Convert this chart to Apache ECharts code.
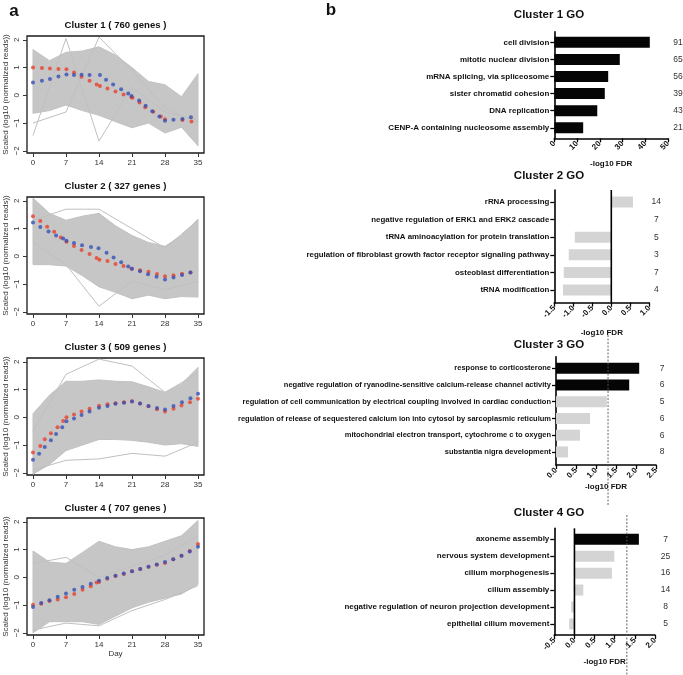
<!DOCTYPE html>
<html><head><meta charset="utf-8">
<script src="https://cdn.jsdelivr.net/npm/echarts@6/dist/echarts.min.js"></script>
<style>html,body{margin:0;padding:0;background:#fff}#c{width:683px;height:675px}</style>
</head><body><div id="c"></div>
<script>
const FONT = '"Liberation Sans", Arial, Helvetica, sans-serif';

// ---------------- panel a : expression profiles ----------------
const dayTicks = [0, 7, 14, 21, 28, 35];
const yTicks = [2, 1, 0, -1, -2];
const bandDays = [0, 3.5, 7, 10.5, 14, 17.5, 21, 24.5, 28, 31.5, 35];
const outDays = [0, 7, 14, 21, 28, 35];
const profileTitles = ['Cluster 1 ( 760 genes )', 'Cluster 2 ( 327 genes )', 'Cluster 3 ( 509 genes )', 'Cluster 4 ( 707 genes )'];

// cluster 1
const c1Upper = [1.65, 1.25, 1.55, 1.6, 1.75, 1.45, 1.0, 0.5, 0.38, -0.05, 0.78];
const c1Lower = [-0.65, -0.55, -0.35, -0.55, -0.72, -0.95, -1.17, -1.0, -1.36, -1.15, -1.82];
const c1Out1 = [-1.45, 2.05, -1.65, 0.3, -0.6, -0.9];
const c1Out2 = [-1.0, -0.6, 2.1, 0.9, -0.45, -1.0];
const c1RedDays = [0, 1.9, 3.6, 5.4, 7.1, 8.7, 10.3, 12, 13.5, 14.2, 15.8, 17.5, 19.2, 20.9, 21.1, 22.6, 23.8, 25.5, 27.1, 28, 31.7, 33.6];
const c1RedVals = [1.0, 0.99, 0.97, 0.95, 0.94, 0.82, 0.67, 0.53, 0.39, 0.34, 0.25, 0.14, 0.03, -0.07, -0.09, -0.26, -0.43, -0.59, -0.76, -0.86, -0.89, -0.94];
const c1BlueDays = [0, 1.9, 3.6, 5.4, 7.1, 8.7, 10.3, 12, 14.2, 15.5, 17, 18.7, 20.2, 20.9, 22.5, 23.9, 25.3, 26.8, 28, 29.8, 31.7, 33.5];
const c1BlueVals = [0.46, 0.53, 0.59, 0.68, 0.75, 0.73, 0.74, 0.73, 0.73, 0.56, 0.39, 0.22, 0.07, -0.02, -0.19, -0.38, -0.57, -0.76, -0.92, -0.88, -0.85, -0.79];

// cluster 2
const c2Upper = [2.1, 1.55, 1.3, 1.45, 1.55, 1.1, 0.75, 0.5, 0.36, 0.75, 1.34];
const c2Lower = [-0.3, -0.3, -0.35, -0.7, -1.1, -1.3, -1.53, -1.4, -1.53, -1.45, -1.47];
const c2Out1 = [0.5, -0.3, -1.8, -0.9, -1.2, -0.9];
const c2Out2 = [1.3, 1.7, 1.7, 1.0, 0.3, 1.3];
const c2RedDays = [0, 1.55, 3, 4.5, 5.9, 7.1, 8.7, 10.3, 12, 13.5, 14.1, 15.8, 17.5, 19.2, 20.9, 22.7, 24.5, 26.3, 28, 29.8, 31.6, 33.4];
const c2RedVals = [1.45, 1.27, 1.07, 0.89, 0.68, 0.53, 0.37, 0.23, 0.08, -0.06, -0.12, -0.17, -0.28, -0.35, -0.45, -0.5, -0.56, -0.64, -0.72, -0.68, -0.63, -0.58];
const c2BlueDays = [0, 1.55, 3.3, 4.9, 6.4, 7.1, 8.7, 10.4, 12.3, 13.9, 15.6, 17.1, 18.7, 20.2, 21, 22.7, 24.4, 26.2, 28, 29.8, 31.6, 33.4];
const c2BlueVals = [1.22, 1.06, 0.9, 0.75, 0.64, 0.56, 0.48, 0.4, 0.34, 0.29, 0.13, -0.04, -0.21, -0.37, -0.45, -0.54, -0.65, -0.74, -0.84, -0.76, -0.67, -0.58];

// cluster 3
const c3Upper = [0.13, 0.8, 1.3, 1.3, 1.35, 1.3, 1.28, 1.1, 0.9, 1.2, 1.8];
const c3Lower = [-2.05, -1.7, -1.2, -1.0, -0.8, -0.8, -0.83, -0.9, -1.0, -0.95, -1.05];
const c3Out1 = [-0.5, 1.55, 2.1, 1.85, 0.9, 1.6];
const c3Out2 = [-1.9, -1.55, -1.5, -1.3, -1.4, -0.9];
const c3RedDays = [0, 1.55, 2.5, 3.8, 5.2, 6.4, 7.1, 8.7, 10.3, 12, 14, 15.8, 17.5, 19.3, 21, 22.7, 24.5, 26.3, 28, 29.8, 31.5, 33.3, 35];
const c3RedVals = [-1.27, -1.03, -0.79, -0.57, -0.36, -0.13, 0.0, 0.1, 0.21, 0.31, 0.42, 0.47, 0.51, 0.54, 0.58, 0.5, 0.4, 0.29, 0.21, 0.31, 0.43, 0.54, 0.67];
const c3BlueDays = [0, 1.3, 2.5, 3.8, 4.9, 6.2, 7.1, 8.7, 10.3, 12, 14, 15.8, 17.5, 19.3, 21, 22.7, 24.5, 26.3, 28, 29.8, 31.6, 33.4, 35];
const c3BlueVals = [-1.53, -1.31, -1.07, -0.83, -0.6, -0.36, -0.14, -0.04, 0.08, 0.21, 0.35, 0.41, 0.49, 0.53, 0.57, 0.5, 0.41, 0.34, 0.28, 0.41, 0.54, 0.69, 0.85];

// cluster 4
const c4Upper = [0.95, 0.55, 0.5, 0.9, 1.3, 1.1, 1.0, 1.1, 1.3, 1.5, 2.05];
const c4Lower = [-2.0, -1.6, -1.6, -1.6, -1.7, -1.4, -1.1, -0.9, -0.75, -0.6, -0.25];
const c4Out1 = [0.5, 0.72, 0.0, 0.4, 0.8, 1.5];
const c4Out2 = [-1.9, -1.65, -1.75, -1.2, -0.8, -0.3];
const c4RedDays = [0, 1.75, 3.5, 5.25, 7, 8.75, 10.5, 12.25, 13.5, 14, 15.75, 17.5, 19.25, 21, 22.75, 24.5, 26.25, 28, 29.75, 31.5, 33.25, 35];
const c4RedVals = [-0.99, -0.95, -0.85, -0.8, -0.72, -0.6, -0.45, -0.32, -0.19, -0.17, -0.05, 0.05, 0.12, 0.22, 0.3, 0.38, 0.45, 0.52, 0.65, 0.78, 0.95, 1.2];
const c4BlueDays = [0, 1.75, 3.5, 5.25, 7, 8.75, 10.5, 12.25, 14, 15.75, 17.5, 19.25, 21, 22.75, 24.5, 26.25, 28, 29.75, 31.5, 33.25, 35];
const c4BlueVals = [-1.07, -0.93, -0.83, -0.7, -0.58, -0.45, -0.35, -0.23, -0.12, -0.02, 0.06, 0.14, 0.22, 0.3, 0.38, 0.46, 0.55, 0.65, 0.78, 0.93, 1.1];

// ---------------- panel b : GO enrichment ----------------
const goTitles = ['Cluster 1 GO', 'Cluster 2 GO', 'Cluster 3 GO', 'Cluster 4 GO'];
const c1Terms = ['cell division', 'mitotic nuclear division', 'mRNA splicing, via spliceosome', 'sister chromatid cohesion', 'DNA replication', 'CENP-A containing nucleosome assembly'];
const c1Fdr = [42, 28.8, 23.7, 22.2, 18.9, 12.7];
const c1Counts = [91, 65, 56, 39, 43, 21];
const c2Terms = ['rRNA processing', 'negative regulation of ERK1 and ERK2 cascade', 'tRNA aminoacylation for protein translation', 'regulation of fibroblast growth factor receptor signaling pathway', 'osteoblast differentiation', 'tRNA modification'];
const c2Fdr = [0.57, 0, -0.96, -1.12, -1.25, -1.27];
const c2Counts = [14, 7, 5, 3, 7, 4];
const c3Terms = ['response to corticosterone', 'negative regulation of ryanodine-sensitive calcium-release channel activity', 'regulation of cell communication by electrical coupling involved in cardiac conduction', 'regulation of release of sequestered calcium ion into cytosol by sarcoplasmic reticulum', 'mitochondrial electron transport, cytochrome c to oxygen', 'substantia nigra development'];
const c3Fdr = [2.08, 1.83, 1.27, 0.85, 0.6, 0.3];
const c3Counts = [7, 6, 5, 6, 6, 8];
const c4Terms = ['axoneme assembly', 'nervous system development', 'cilium morphogenesis', 'cilium assembly', 'negative regulation of neuron projection development', 'epithelial cilium movement'];
const c4Fdr = [1.6, 0.99, 0.93, 0.22, -0.08, -0.13];
const c4Counts = [7, 25, 16, 14, 8, 5];
const goAxisMin = [0, -1.5, 0, -0.5];
const goAxisMax = [50, 1.0, 2.5, 2.0];
const goAxisStep = [10, 0.5, 0.5, 0.5];
const fdrCutoff = 1.301; // -log10(0.05)

// ---------------- layout (pixels) ----------------
const profTops = [36, 197, 358, 518];
const profLeft = 27, profW = 177, profH = 117;
const frames = [
  {left: 554.3, top: 31.7, width: 113.7, height: 106.6, bandTop: 33.8, bandH: 102.5, font: 8, cntGap: 10, nameGap: 21},
  {left: 554.3, top: 190, width: 95, height: 112.7, bandTop: 193.2, bandH: 105.6, font: 7.9, cntGap: 7, nameGap: 26.5},
  {left: 556, top: 356.7, width: 100, height: 108.3, bandTop: 359.9, bandH: 100.4, font: 7.5, cntGap: 6, nameGap: 17.5},
  {left: 554.3, top: 528.3, width: 100.7, height: 106.7, bandTop: 530.8, bandH: 101.6, font: 8, cntGap: 10.5, nameGap: 22.5}
];

const profiles = [
  {upper: c1Upper, lower: c1Lower, outs: [c1Out1, c1Out2], rd: c1RedDays, rv: c1RedVals, bd: c1BlueDays, bv: c1BlueVals},
  {upper: c2Upper, lower: c2Lower, outs: [c2Out1, c2Out2], rd: c2RedDays, rv: c2RedVals, bd: c2BlueDays, bv: c2BlueVals},
  {upper: c3Upper, lower: c3Lower, outs: [c3Out1, c3Out2], rd: c3RedDays, rv: c3RedVals, bd: c3BlueDays, bv: c3BlueVals},
  {upper: c4Upper, lower: c4Lower, outs: [c4Out1, c4Out2], rd: c4RedDays, rv: c4RedVals, bd: c4BlueDays, bv: c4BlueVals}
];
const goSets = [
  {terms: c1Terms, fdr: c1Fdr, counts: c1Counts},
  {terms: c2Terms, fdr: c2Fdr, counts: c2Counts},
  {terms: c3Terms, fdr: c3Fdr, counts: c3Counts},
  {terms: c4Terms, fdr: c4Fdr, counts: c4Counts}
];

const grid = [], xAxis = [], yAxis = [], series = [];
const zip = (a, b) => a.map((v, i) => [v, b[i]]);

// profile grids 0..3
profiles.forEach((p, i) => {
  grid.push({left: profLeft, top: profTops[i], width: profW, height: profH, show: true,
    borderColor: '#1a1a1a', borderWidth: 1.3, backgroundColor: 'transparent', outerBoundsMode: 'none', containLabel: false});
  xAxis.push({type: 'value', gridIndex: i, min: -1.27, max: 36.27, position: 'bottom',
    axisLine: {show: false, onZero: false}, splitLine: {show: false},
    axisTick: {show: true, customValues: dayTicks, length: 4, lineStyle: {color: '#333', width: 1}},
    axisLabel: {customValues: dayTicks, fontSize: 8, color: '#333', margin: 6, fontFamily: FONT},
    name: i === 3 ? 'Day' : '', nameLocation: 'middle', nameGap: 14,
    nameTextStyle: {fontSize: 8, color: '#333', fontFamily: FONT}});
  yAxis.push({type: 'value', gridIndex: i, min: -2.08, max: 2.14, position: 'left',
    axisLine: {show: false, onZero: false}, splitLine: {show: false},
    axisTick: {show: true, customValues: yTicks, length: 4, lineStyle: {color: '#333', width: 1}},
    axisLabel: {customValues: yTicks, fontSize: 8, color: '#333', margin: 6, rotate: 90, fontFamily: FONT,
      formatter: v => (v < 0 ? '\u2212' + Math.abs(v) : String(v))},
    name: 'Scaled (log10 (normalized reads))', nameLocation: 'middle', nameGap: 17,
    nameTextStyle: {fontSize: 8, color: '#333', fontFamily: FONT}});
  series.push({type: 'custom', xAxisIndex: i, yAxisIndex: i, silent: true, z: 1, clip: true,
    data: [[17.5, 1]],
    renderItem: (params, api) => {
      const pts = [];
      bandDays.forEach((d, k) => pts.push(api.coord([d, p.upper[k]])));
      for (let k = bandDays.length - 1; k >= 0; k--) pts.push(api.coord([bandDays[k], p.lower[k]]));
      return {type: 'polygon', shape: {points: pts}, style: {fill: '#c6c6c6', stroke: '#c2c2c2', lineWidth: 1}};
    }});
  p.outs.forEach(o => series.push({type: 'line', xAxisIndex: i, yAxisIndex: i, silent: true, z: 2,
    data: zip(outDays, o), symbol: 'none', showSymbol: false, lineStyle: {color: '#c0c0c0', width: 1}, clip: true}));
  series.push({type: 'scatter', xAxisIndex: i, yAxisIndex: i, z: 3, data: zip(p.rd, p.rv),
    symbol: 'circle', symbolSize: 4, itemStyle: {color: '#e8412c'}});
  series.push({type: 'scatter', xAxisIndex: i, yAxisIndex: i, z: 4, data: zip(p.bd, p.bv),
    symbol: 'circle', symbolSize: 4, itemStyle: {color: '#3550b8'}});
});

// GO frame grids 4..7
frames.forEach((f, j) => {
  grid.push({left: f.left, top: f.top, width: f.width, height: f.height, outerBoundsMode: 'none', containLabel: false});
  xAxis.push({type: 'value', gridIndex: 4 + j, min: goAxisMin[j], max: goAxisMax[j], interval: goAxisStep[j],
    position: 'bottom', splitLine: {show: false},
    axisLine: {show: true, onZero: false, lineStyle: {color: '#000', width: 1.6}},
    axisTick: {show: true, length: 4, lineStyle: {color: '#000', width: 1.3}},
    axisLabel: {rotate: 45, fontSize: 8, fontWeight: 'bold', color: '#111', margin: 4, fontFamily: FONT,
      formatter: v => (j === 0 ? String(Math.round(v)) : v.toFixed(1))},
    name: '-log10 FDR', nameLocation: 'middle', nameGap: f.nameGap,
    nameTextStyle: {fontSize: 8, fontWeight: 'bold', color: '#111', fontFamily: FONT}});
  yAxis.push({type: 'value', gridIndex: 4 + j, min: 0, max: 1, position: 'left',
    axisLine: {show: true, onZero: false, lineStyle: {color: '#000', width: 1.6}},
    axisTick: {show: false}, axisLabel: {show: false}, splitLine: {show: false}});
});

// GO bar grids 8..11
frames.forEach((f, j) => {
  const g = goSets[j];
  grid.push({left: f.left, top: f.bandTop, width: f.width, height: f.bandH, outerBoundsMode: 'none', containLabel: false});
  xAxis.push({type: 'value', gridIndex: 8 + j, min: goAxisMin[j], max: goAxisMax[j], show: false});
  yAxis.push({type: 'category', gridIndex: 8 + j, inverse: true, data: g.terms, position: 'left',
    axisLine: {show: false, onZero: false},
    axisTick: {show: true, alignWithLabel: true, length: 4, lineStyle: {color: '#000', width: 1.3}},
    axisLabel: {fontSize: f.font, fontWeight: 'bold', color: '#111', margin: 5, fontFamily: FONT}});
});
frames.forEach((f, j) => {
  const g = goSets[j];
  yAxis.push({type: 'category', gridIndex: 8 + j, inverse: true, position: 'right', data: g.counts.map(String),
    axisLine: {show: false, onZero: false}, axisTick: {show: false},
    axisLabel: {fontSize: 8.5, color: '#333', margin: f.cntGap, align: 'center', fontFamily: FONT}});
  series.push({type: 'bar', xAxisIndex: 8 + j, yAxisIndex: 8 + j, barWidth: 11, z: 3,
    data: g.fdr,
    itemStyle: {color: params => (params.value > fdrCutoff ? '#050505' : '#d4d4d4'),
      borderColor: 'transparent'}});
});

const chart = echarts.init(document.getElementById('c'), null, {renderer: 'canvas'});
chart.setOption({animation: false, backgroundColor: '#fff', textStyle: {fontFamily: FONT},
  grid, xAxis, yAxis, series});

// titles, letters and reference lines
const gfx = [];
const txt = (x, y, text, size, weight, color) => gfx.push({type: 'text', x, y, silent: true,
  style: {text, font: `${weight} ${size}px ${FONT}`, fill: color, align: 'center', verticalAlign: 'middle'}});
txt(14, 11, 'a', 17, 'bold', '#111');
txt(331, 10, 'b', 17, 'bold', '#111');
const profTitleY = [25, 186, 347, 508];
profileTitles.forEach((t, i) => txt(profLeft + profW / 2, profTitleY[i], t, 9.6, 'bold', '#111'));
const goTitleY = [15, 176, 345, 513];
goTitles.forEach((t, j) => txt(549, goTitleY[j], t, 11.5, 'bold', '#111'));

const vline = (x, y1, y2, color, width, dash) => gfx.push({type: 'line', silent: true, z: 10,
  shape: {x1: x, y1, x2: x, y2}, style: {stroke: color, lineWidth: width, lineDash: dash || null}});
// zero lines (clusters 2 and 4)
[1, 3].forEach(j => {
  const x = chart.convertToPixel({xAxisIndex: 4 + j}, 0);
  vline(x, frames[j].top, frames[j].top + frames[j].height, '#000', 1.6);
});
// significance cut-off lines (clusters 3 and 4)
const cutSpan = [[335, 506], [515, 675]];
[2, 3].forEach((j, k) => {
  const x = chart.convertToPixel({xAxisIndex: 4 + j}, fdrCutoff);
  vline(x, cutSpan[k][0], cutSpan[k][1], '#555', 0.9, [2, 1.5]);
});
chart.setOption({graphic: gfx});
</script></body></html>
